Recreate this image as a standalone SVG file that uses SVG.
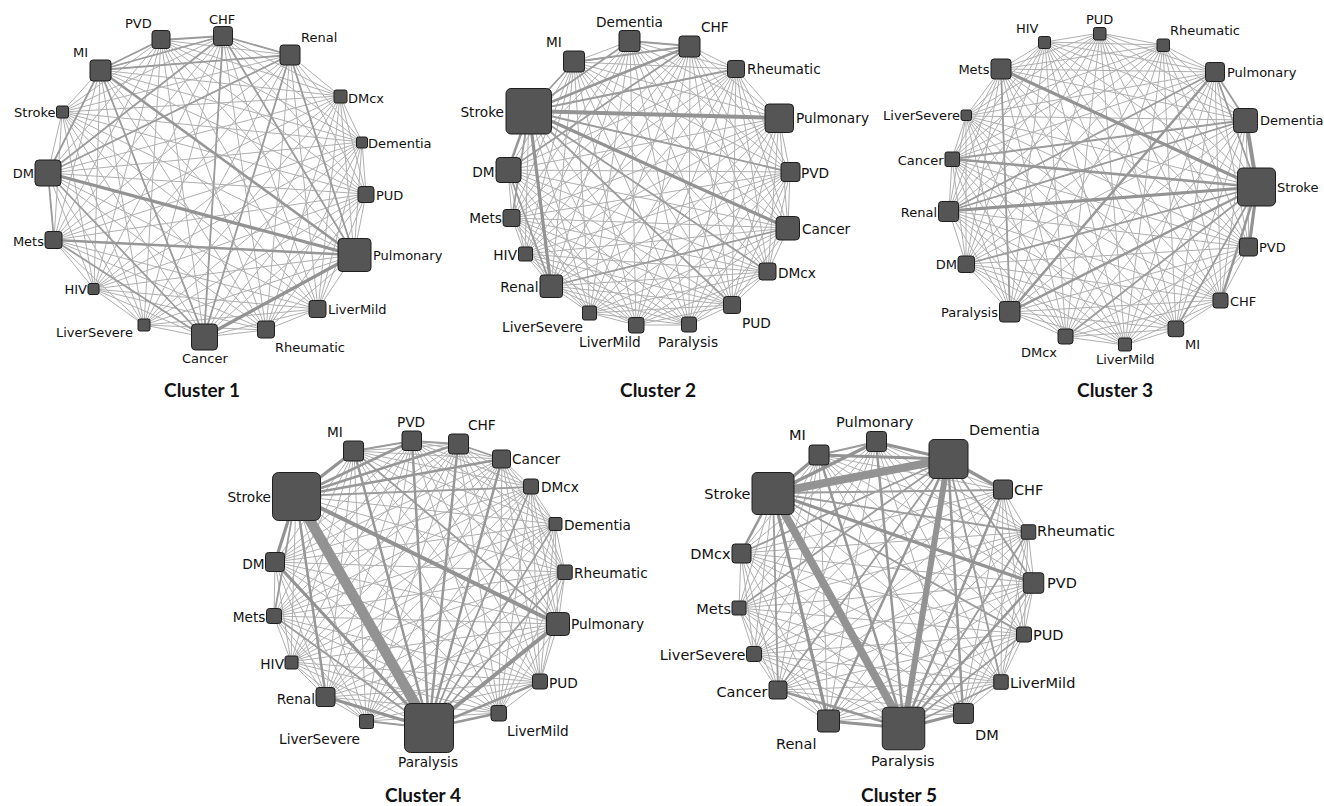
<svg xmlns="http://www.w3.org/2000/svg" width="1324" height="806" viewBox="0 0 1324 806">
<style>
.e{fill:none;stroke:#afafaf;stroke-width:1;stroke-linejoin:round}
.m{fill:none;stroke:#9c9c9c;stroke-width:1.8;stroke-linecap:round}
.t25{fill:none;stroke:#979797;stroke-width:2.5;stroke-linecap:round}
.t3{fill:none;stroke:#939393;stroke-width:3.2;stroke-linecap:round}
.t4{fill:none;stroke:#939393;stroke-width:4;stroke-linecap:round}
.t6{fill:none;stroke:#939393;stroke-width:6}
.t8{fill:none;stroke:#939393;stroke-width:8}
.t10{fill:none;stroke:#939393;stroke-width:10.5}
rect{fill:#555;stroke:#1e1e1e;stroke-width:1}
text{font-family:"DejaVu Sans",Verdana,sans-serif;fill:#111}
.c1 text,.c3 text{font-size:13px}
.c2 text,.c4 text{font-size:13.7px}
.c5 text{font-size:14.5px}
.r{text-anchor:end}
g text.title{font-family:Lato,"Open Sans",sans-serif;font-weight:bold;font-size:19px;text-anchor:middle;fill:#111}
</style>
<rect x="0" y="0" width="1324" height="806" style="fill:#fff;stroke:none"/>
<g id="connectors">
<g id="c1-edges">
<path class="e" d="M161,40 223,36 290,55 340,96 362,142 366,194 354,255 318,309 266,330 204,337 144,325 94,289 54,240 48,173 62,112 100,70Z M161,40 340,96 354,255 204,337 54,240 100,70 290,55 366,194 266,330 94,289 62,112 223,36 362,142 318,309 144,325 48,173Z M161,40 366,194 144,325 100,70 362,142 204,337 62,112 340,96 266,330 48,173 290,55 318,309 54,240 223,36 354,255 94,289Z M161,40 318,309 62,112 366,194 54,240 340,96 144,325 223,36 266,330 100,70 354,255 48,173 362,142 94,289 290,55 204,337Z M161,40 290,55 362,142 354,255 266,330 144,325 54,240 62,112Z M223,36 340,96 366,194 318,309 204,337 94,289 48,173 100,70Z M161,40 354,255 54,240 290,55 266,330 62,112 362,142 144,325Z M223,36 318,309 48,173 340,96 204,337 100,70 366,194 94,289Z M161,40 362,142 266,330 54,240Z M223,36 366,194 204,337 48,173Z M290,55 354,255 144,325 62,112Z M340,96 318,309 94,289 100,70Z M161,40 266,330M223,36 204,337M290,55 144,325M340,96 94,289M362,142 54,240M366,194 48,173M354,255 62,112M318,309 100,70"/>
<path class="m" d="M100,70L223,36M100,70L290,55M161,40L223,36M223,36L290,55M48,173L290,55M48,173L223,36M48,173L100,70M48,173L204,337M100,70L204,337M290,55L354,255M223,36L354,255M290,55L204,337M54,240L204,337M48,173L54,240M100,70L161,40M223,36L204,337"/>
<path class="t25" d="M54,240L354,255M100,70L354,255"/>
<path class="t3" d="M48,173L354,255M204,337L354,255"/>
</g>
<g id="c2-edges">
<path class="e" d="M574,62 630,41 690,46 736,69 779,118 790,172 788,228 768,272 732,305 689,325 636,325 590,313 551,286 525,254 512,218 508,170 529,111Z M574,62 690,46 779,118 788,228 732,305 636,325 551,286 512,218 529,111 630,41 736,69 790,172 768,272 689,325 590,313 525,254 508,170Z M574,62 736,69 788,228 689,325 551,286 508,170 630,41 779,118 768,272 636,325 525,254 529,111 690,46 790,172 732,305 590,313 512,218Z M574,62 779,118 732,305 551,286 529,111 736,69 768,272 590,313 508,170 690,46 788,228 636,325 512,218 630,41 790,172 689,325 525,254Z M574,62 790,172 636,325 508,170 736,69 732,305 525,254 630,41 788,228 590,313 529,111 779,118 689,325 512,218 690,46 768,272 551,286Z M574,62 788,228 551,286 630,41 768,272 525,254 690,46 732,305 512,218 736,69 689,325 508,170 779,118 636,325 529,111 790,172 590,313Z M574,62 768,272 512,218 779,118 590,313 630,41 732,305 508,170 790,172 551,286 690,46 689,325 529,111 788,228 525,254 736,69 636,325Z M574,62 732,305 529,111 768,272 508,170 788,228 512,218 790,172 525,254 779,118 551,286 736,69 590,313 690,46 636,325 630,41 689,325Z"/>
<path class="m" d="M529,111L574,62M529,111L630,41M529,111L790,172M529,111L736,69M529,111L768,272M529,111L512,218M508,170L690,46M574,62L690,46M630,41L690,46M508,170L551,286M551,286L788,228M529,111L732,305"/>
<path class="t25" d="M529,111L690,46M529,111L508,170"/>
<path class="t3" d="M529,111L788,228M529,111L551,286"/>
<path class="t4" d="M529,111L779,118"/>
</g>
<g id="c3-edges">
<path class="e" d="M1100,33 1163,45 1215,72 1246,120 1257,187 1249,247 1221,300 1176,329 1125,345 1066,337 1010,312 966,264 949,211 952,159 966,116 1001,69 1045,42Z M1100,33 1215,72 1257,187 1221,300 1125,345 1010,312 949,211 966,116 1045,42 1163,45 1246,120 1249,247 1176,329 1066,337 966,264 952,159 1001,69Z M1100,33 1246,120 1221,300 1066,337 949,211 1001,69 1163,45 1257,187 1176,329 1010,312 952,159 1045,42 1215,72 1249,247 1125,345 966,264 966,116Z M1100,33 1257,187 1125,345 949,211 1045,42 1246,120 1176,329 966,264 1001,69 1215,72 1221,300 1010,312 966,116 1163,45 1249,247 1066,337 952,159Z M1100,33 1249,247 1010,312 1001,69 1246,120 1125,345 952,159 1163,45 1221,300 966,264 1045,42 1257,187 1066,337 966,116 1215,72 1176,329 949,211Z M1100,33 1221,300 949,211 1163,45 1176,329 952,159 1215,72 1125,345 966,116 1246,120 1066,337 1001,69 1257,187 1010,312 1045,42 1249,247 966,264Z M1100,33 1176,329 966,116 1257,187 966,264 1163,45 1125,345 1001,69 1249,247 949,211 1215,72 1066,337 1045,42 1221,300 952,159 1246,120 1010,312Z M1100,33 1125,345 1045,42 1176,329 1001,69 1221,300 966,116 1249,247 952,159 1257,187 949,211 1246,120 966,264 1215,72 1010,312 1163,45 1066,337Z"/>
<path class="m" d="M1257,187L1215,72M1257,187L1066,337M1257,187L966,264M1001,69L1010,312M1246,120L952,159M1246,120L949,211M1257,187L1176,329M1215,72L1246,120M1215,72L949,211"/>
<path class="t25" d="M1215,72L1010,312M1257,187L1010,312M1257,187L952,159M1257,187L1221,300"/>
<path class="t3" d="M1257,187L949,211M1001,69L1257,187M1257,187L1249,247"/>
<path class="t4" d="M1246,120L1257,187"/>
</g>
<g id="c4-edges">
<path class="e" d="M354,451 412,441 458,444 502,459 531,487 555,524 565,572 558,624 540,682 499,713 429,728 366,721 326,697 291,662 274,616 275,562 296,496Z M354,451 458,444 531,487 565,572 540,682 429,728 326,697 274,616 296,496 412,441 502,459 555,524 558,624 499,713 366,721 291,662 275,562Z M354,451 502,459 565,572 499,713 326,697 275,562 412,441 531,487 558,624 429,728 291,662 296,496 458,444 555,524 540,682 366,721 274,616Z M354,451 531,487 540,682 326,697 296,496 502,459 558,624 366,721 275,562 458,444 565,572 429,728 274,616 412,441 555,524 499,713 291,662Z M354,451 555,524 429,728 275,562 502,459 540,682 291,662 412,441 565,572 366,721 296,496 531,487 499,713 274,616 458,444 558,624 326,697Z M354,451 565,572 326,697 412,441 558,624 291,662 458,444 540,682 274,616 502,459 499,713 275,562 531,487 429,728 296,496 555,524 366,721Z M354,451 558,624 274,616 531,487 366,721 412,441 540,682 275,562 555,524 326,697 458,444 499,713 296,496 565,572 291,662 502,459 429,728Z M354,451 540,682 296,496 558,624 275,562 565,572 274,616 555,524 291,662 531,487 326,697 502,459 366,721 458,444 429,728 412,441 499,713Z"/>
<path class="m" d="M354,451L412,441M412,441L458,444M458,444L502,459M296,496L274,616M429,728L274,616M429,728L366,721M429,728L531,487M429,728L555,524M429,728L565,572M296,496L531,487M354,451L558,624"/>
<path class="t25" d="M296,496L412,441M296,496L458,444M296,496L502,459M429,728L354,451M429,728L412,441M429,728L458,444M429,728L502,459M296,496L326,697M429,728L540,682M429,728L499,713"/>
<path class="t3" d="M296,496L354,451M296,496L275,562M429,728L275,562M429,728L326,697"/>
<path class="t4" d="M296,496L558,624M429,728L558,624"/>
<path class="t10" d="M296,496L429,728"/>
</g>
<g id="c5-edges">
<path class="e" d="M819,455 876,442 948,459 1003,490 1028,532 1034,583 1024,634 1001,682 963,713 904,728 828,721 778,690 754,654 739,608 741,553 773,493Z M819,455 1003,490 1024,634 904,728 754,654 773,493 948,459 1034,583 963,713 778,690 741,553 876,442 1028,532 1001,682 828,721 739,608Z M819,455 1034,583 828,721 773,493 1028,532 904,728 741,553 1003,490 963,713 739,608 948,459 1001,682 754,654 876,442 1024,634 778,690Z M819,455 1001,682 741,553 1034,583 754,654 1003,490 828,721 876,442 963,713 773,493 1024,634 739,608 1028,532 778,690 948,459 904,728Z M819,455 948,459 1028,532 1024,634 963,713 828,721 754,654 741,553Z M876,442 1003,490 1034,583 1001,682 904,728 778,690 739,608 773,493Z M819,455 1024,634 754,654 948,459 963,713 741,553 1028,532 828,721Z M876,442 1001,682 739,608 1003,490 904,728 773,493 1034,583 778,690Z M819,455 1028,532 963,713 754,654Z M876,442 1034,583 904,728 739,608Z M948,459 1024,634 828,721 741,553Z M1003,490 1001,682 778,690 773,493Z M819,455 963,713M876,442 904,728M948,459 828,721M1003,490 778,690M1028,532 754,654M1034,583 739,608M1024,634 741,553M1001,682 773,493"/>
<path class="m" d="M948,459L741,553M948,459L778,690M948,459L739,608M773,493L1003,490M773,493L1028,532M773,493L778,690M773,493L1024,634M904,728L1001,682M904,728L1024,634M904,728L1028,532M819,455L876,442M948,459L1034,583M948,459L1001,682"/>
<path class="t25" d="M904,728L819,455M904,728L876,442M904,728L1003,490M904,728L1034,583M904,728L778,690M773,493L741,553M948,459L828,721M948,459L963,713"/>
<path class="t3" d="M773,493L819,455M773,493L876,442M876,442L948,459M819,455L948,459M773,493L828,721M773,493L1034,583M904,728L828,721M904,728L963,713M948,459L1003,490"/>
<path class="t6" d="M948,459L904,728"/>
<path class="t8" d="M773,493L948,459M773,493L904,728"/>
</g>
</g>
<g id="cluster1" class="c1">
<g id="c1-PVD"><rect x="152" y="30.5" width="18" height="18" rx="3"/><text x="125" y="28">PVD</text></g>
<g id="c1-CHF"><rect x="213.5" y="26.5" width="19" height="19" rx="3"/><text x="209" y="24">CHF</text></g>
<g id="c1-Renal"><rect x="280" y="45" width="20" height="20" rx="3"/><text x="301" y="41.5">Renal</text></g>
<g id="c1-DMcx"><rect x="334" y="90" width="13" height="13" rx="2"/><text x="348" y="102.5">DMcx</text></g>
<g id="c1-Dementia"><rect x="356.5" y="137" width="11" height="11" rx="2"/><text x="368" y="148">Dementia</text></g>
<g id="c1-PUD"><rect x="358" y="186.5" width="16" height="16" rx="3"/><text x="376" y="200">PUD</text></g>
<g id="c1-Pulmonary"><rect x="338" y="238.5" width="33" height="33" rx="4"/><text x="373" y="260">Pulmonary</text></g>
<g id="c1-LiverMild"><rect x="309" y="300.5" width="17" height="17" rx="3"/><text x="328" y="313.5">LiverMild</text></g>
<g id="c1-Rheumatic"><rect x="257.5" y="321" width="17" height="17" rx="3"/><text x="275" y="352">Rheumatic</text></g>
<g id="c1-Cancer"><rect x="191.5" y="324" width="26" height="26" rx="4"/><text x="182" y="363">Cancer</text></g>
<g id="c1-LiverSevere"><rect x="138" y="319" width="12" height="12" rx="2"/><text x="56" y="337">LiverSevere</text></g>
<g id="c1-HIV"><rect x="88" y="283.5" width="11" height="11" rx="2"/><text class="r" x="87" y="294">HIV</text></g>
<g id="c1-Mets"><rect x="45" y="231.5" width="17" height="17" rx="3"/><text class="r" x="44" y="246">Mets</text></g>
<g id="c1-DM"><rect x="35" y="160" width="26" height="26" rx="4"/><text class="r" x="34" y="178">DM</text></g>
<g id="c1-Stroke"><rect x="56.5" y="106" width="12" height="12" rx="2"/><text class="r" x="55.5" y="117">Stroke</text></g>
<g id="c1-MI"><rect x="90" y="60" width="21" height="21" rx="3"/><text x="73" y="56.5">MI</text></g>
<text class="title" x="202" y="397">Cluster 1</text>
</g>
<g id="cluster2" class="c2">
<g id="c2-MI"><rect x="563.5" y="51" width="21" height="21" rx="3"/><text x="546" y="47">MI</text></g>
<g id="c2-Dementia"><rect x="619" y="30.5" width="21" height="21" rx="3"/><text x="596" y="27">Dementia</text></g>
<g id="c2-CHF"><rect x="679" y="36" width="21" height="21" rx="3"/><text x="701" y="32">CHF</text></g>
<g id="c2-Rheumatic"><rect x="727.5" y="60.5" width="17" height="17" rx="3"/><text x="747" y="74">Rheumatic</text></g>
<g id="c2-Stroke"><rect x="506" y="88.5" width="45.5" height="45.5" rx="5"/><text class="r" x="504" y="117">Stroke</text></g>
<g id="c2-Pulmonary"><rect x="765" y="104" width="28.5" height="28.5" rx="4"/><text x="796" y="123">Pulmonary</text></g>
<g id="c2-DM"><rect x="496" y="157.5" width="25" height="25" rx="4"/><text class="r" x="494.5" y="177">DM</text></g>
<g id="c2-PVD"><rect x="781" y="162.5" width="19" height="19" rx="3"/><text x="801" y="178">PVD</text></g>
<g id="c2-Mets"><rect x="503" y="209.5" width="17" height="17" rx="3"/><text class="r" x="502" y="223">Mets</text></g>
<g id="c2-Cancer"><rect x="776" y="216.5" width="23.5" height="23.5" rx="4"/><text x="802" y="234">Cancer</text></g>
<g id="c2-HIV"><rect x="518.5" y="247" width="14" height="14" rx="2"/><text class="r" x="517" y="260">HIV</text></g>
<g id="c2-DMcx"><rect x="759" y="263" width="17" height="17" rx="3"/><text x="778" y="277.5">DMcx</text></g>
<g id="c2-Renal"><rect x="540" y="275" width="22.5" height="22.5" rx="3"/><text class="r" x="538.5" y="292">Renal</text></g>
<g id="c2-LiverSevere"><rect x="582.5" y="306" width="14" height="14" rx="2"/><text x="502" y="332">LiverSevere</text></g>
<g id="c2-LiverMild"><rect x="628.5" y="317.5" width="15.5" height="15.5" rx="3"/><text x="579" y="347">LiverMild</text></g>
<g id="c2-Paralysis"><rect x="681.5" y="317" width="15" height="15" rx="3"/><text x="658" y="347">Paralysis</text></g>
<g id="c2-PUD"><rect x="723.5" y="296.5" width="17" height="17" rx="3"/><text x="742" y="328">PUD</text></g>
<text class="title" x="658" y="397">Cluster 2</text>
</g>
<g id="cluster3" class="c3">
<g id="c3-HIV"><rect x="1038.5" y="36.5" width="12" height="12" rx="2"/><text x="1016" y="33">HIV</text></g>
<g id="c3-PUD"><rect x="1093.5" y="27.5" width="12.5" height="12.5" rx="2"/><text x="1086" y="23.5">PUD</text></g>
<g id="c3-Rheumatic"><rect x="1157" y="39" width="12.5" height="12.5" rx="2"/><text x="1170" y="35">Rheumatic</text></g>
<g id="c3-Mets"><rect x="991" y="59" width="20" height="20" rx="3"/><text class="r" x="989.5" y="74">Mets</text></g>
<g id="c3-Pulmonary"><rect x="1205.5" y="62.5" width="19" height="19" rx="3"/><text x="1227" y="77">Pulmonary</text></g>
<g id="c3-LiverSevere"><rect x="961" y="110" width="10.5" height="10.5" rx="2"/><text class="r" x="960" y="120">LiverSevere</text></g>
<g id="c3-Dementia"><rect x="1233.5" y="108.5" width="24" height="24" rx="4"/><text x="1260" y="125">Dementia</text></g>
<g id="c3-Cancer"><rect x="945" y="152" width="14.5" height="14.5" rx="2"/><text class="r" x="943.5" y="165">Cancer</text></g>
<g id="c3-Stroke"><rect x="1237.5" y="168" width="38" height="38" rx="5"/><text x="1277" y="192">Stroke</text></g>
<g id="c3-Renal"><rect x="938.5" y="201.5" width="20" height="20" rx="3"/><text class="r" x="937" y="217">Renal</text></g>
<g id="c3-PVD"><rect x="1239.5" y="238" width="18" height="18" rx="3"/><text x="1259" y="252">PVD</text></g>
<g id="c3-DM"><rect x="958" y="256" width="16.5" height="16.5" rx="3"/><text class="r" x="957" y="269">DM</text></g>
<g id="c3-CHF"><rect x="1213" y="293" width="15" height="15" rx="3"/><text x="1230" y="306">CHF</text></g>
<g id="c3-Paralysis"><rect x="999.5" y="301.5" width="20.5" height="20.5" rx="3"/><text class="r" x="998" y="317">Paralysis</text></g>
<g id="c3-MI"><rect x="1168" y="321" width="15.7" height="15.7" rx="3"/><text x="1185" y="349">MI</text></g>
<g id="c3-DMcx"><rect x="1058" y="329" width="15" height="15" rx="3"/><text x="1021" y="357">DMcx</text></g>
<g id="c3-LiverMild"><rect x="1118.5" y="338" width="13" height="13" rx="2"/><text x="1096" y="364">LiverMild</text></g>
<text class="title" x="1115" y="397">Cluster 3</text>
</g>
<g id="cluster4" class="c4">
<g id="c4-MI"><rect x="343.5" y="441" width="20" height="20" rx="3"/><text x="327" y="437">MI</text></g>
<g id="c4-PVD"><rect x="402" y="431" width="19.5" height="19.5" rx="3"/><text x="397" y="427">PVD</text></g>
<g id="c4-CHF"><rect x="448.5" y="434" width="20" height="20" rx="3"/><text x="468" y="430">CHF</text></g>
<g id="c4-Cancer"><rect x="492.5" y="450" width="18" height="18" rx="3"/><text x="512" y="464">Cancer</text></g>
<g id="c4-DMcx"><rect x="523.5" y="479" width="15" height="15" rx="3"/><text x="541" y="492">DMcx</text></g>
<g id="c4-Stroke"><rect x="272.5" y="472.5" width="48" height="48" rx="6"/><text class="r" x="271" y="502">Stroke</text></g>
<g id="c4-Dementia"><rect x="549" y="517.5" width="13" height="13" rx="2"/><text x="564" y="529.5">Dementia</text></g>
<g id="c4-DM"><rect x="265.5" y="552.5" width="19" height="19" rx="3"/><text class="r" x="264.5" y="568.5">DM</text></g>
<g id="c4-Rheumatic"><rect x="557.75" y="565" width="14.5" height="14.5" rx="2"/><text x="574" y="578">Rheumatic</text></g>
<g id="c4-Mets"><rect x="266.5" y="608.5" width="15" height="15" rx="3"/><text class="r" x="265.5" y="622">Mets</text></g>
<g id="c4-Pulmonary"><rect x="546.5" y="612.5" width="23" height="23" rx="4"/><text x="571" y="628.5">Pulmonary</text></g>
<g id="c4-HIV"><rect x="285" y="656" width="13" height="13" rx="2"/><text class="r" x="284" y="668.5">HIV</text></g>
<g id="c4-PUD"><rect x="532.5" y="674" width="15" height="15" rx="3"/><text x="549" y="687.5">PUD</text></g>
<g id="c4-Renal"><rect x="316" y="687.5" width="19" height="19" rx="3"/><text class="r" x="315" y="703.5">Renal</text></g>
<g id="c4-LiverSevere"><rect x="359.5" y="714.5" width="14" height="14" rx="2"/><text x="279" y="743.5">LiverSevere</text></g>
<g id="c4-LiverMild"><rect x="491" y="705.5" width="15.5" height="15.5" rx="3"/><text x="507" y="736">LiverMild</text></g>
<g id="c4-Paralysis"><rect x="404.5" y="703.5" width="49" height="49" rx="6"/><text x="398" y="767">Paralysis</text></g>
<text class="title" x="423" y="802">Cluster 4</text>
</g>
<g id="cluster5" class="c5">
<g id="c5-MI"><rect x="809" y="445" width="20" height="20" rx="3"/><text x="789" y="440">MI</text></g>
<g id="c5-Pulmonary"><rect x="866.5" y="431.5" width="20" height="20" rx="3"/><text x="836" y="427">Pulmonary</text></g>
<g id="c5-Dementia"><rect x="929" y="439.5" width="39" height="39" rx="5"/><text x="969" y="435">Dementia</text></g>
<g id="c5-Stroke"><rect x="752" y="472.5" width="42" height="42" rx="5"/><text class="r" x="750.5" y="498.5">Stroke</text></g>
<g id="c5-CHF"><rect x="993.5" y="480" width="19" height="19" rx="3"/><text x="1014" y="495">CHF</text></g>
<g id="c5-Rheumatic"><rect x="1021.25" y="524.75" width="14.5" height="14.5" rx="2"/><text x="1037" y="536">Rheumatic</text></g>
<g id="c5-DMcx"><rect x="732" y="544" width="19" height="19" rx="3"/><text class="r" x="730.5" y="559">DMcx</text></g>
<g id="c5-PVD"><rect x="1023.25" y="572.75" width="20.5" height="20.5" rx="3"/><text x="1047" y="587.5">PVD</text></g>
<g id="c5-Mets"><rect x="732" y="601" width="14" height="14" rx="2"/><text class="r" x="731" y="614">Mets</text></g>
<g id="c5-PUD"><rect x="1016.5" y="627" width="15" height="15" rx="3"/><text x="1033" y="640">PUD</text></g>
<g id="c5-LiverSevere"><rect x="746.5" y="646.5" width="15" height="15" rx="3"/><text class="r" x="745.5" y="660">LiverSevere</text></g>
<g id="c5-LiverMild"><rect x="993.75" y="674.75" width="14.5" height="14.5" rx="2"/><text x="1010" y="688">LiverMild</text></g>
<g id="c5-Cancer"><rect x="769" y="681" width="18" height="18" rx="3"/><text class="r" x="767.5" y="697">Cancer</text></g>
<g id="c5-Renal"><rect x="817.5" y="710" width="22" height="22" rx="3"/><text x="776" y="748.5">Renal</text></g>
<g id="c5-DM"><rect x="953.5" y="703.5" width="20" height="20" rx="3"/><text x="975" y="740">DM</text></g>
<g id="c5-Paralysis"><rect x="882.25" y="707.25" width="42.5" height="42.5" rx="5"/><text x="871" y="766">Paralysis</text></g>
<text class="title" x="899" y="802">Cluster 5</text>
</g>
</svg>
